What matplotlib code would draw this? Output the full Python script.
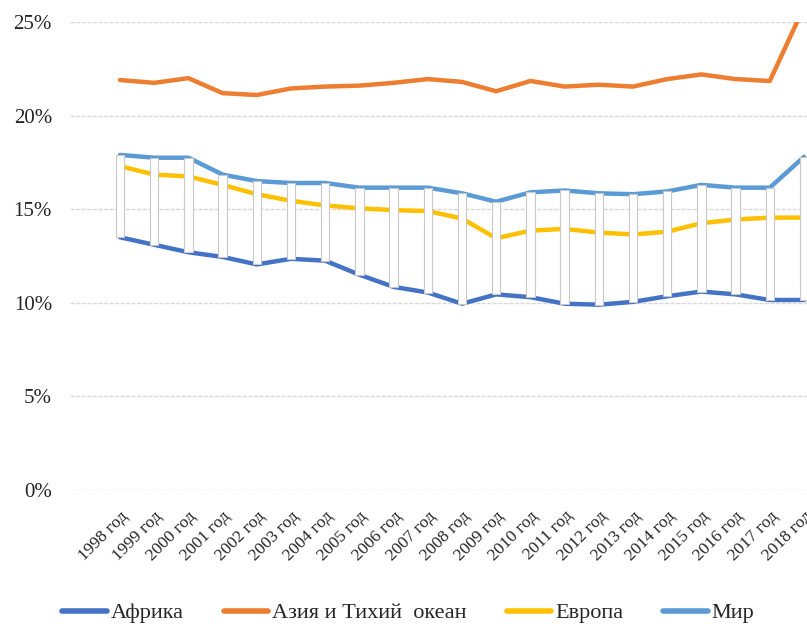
import matplotlib
matplotlib.use("Agg")
import matplotlib.pyplot as plt
from matplotlib.patches import Rectangle
from matplotlib.ticker import PercentFormatter

years = [f"{y} год" for y in range(1998, 2019)]
africa = [13.5, 13.1, 12.7, 12.45, 12.05, 12.35, 12.25, 11.5, 10.85, 10.55, 9.95,
          10.45, 10.3, 9.95, 9.9, 10.05, 10.35, 10.6, 10.45, 10.15, 10.15]
asia = [21.9, 21.75, 22.0, 21.2, 21.1, 21.45, 21.55, 21.6, 21.75, 21.95, 21.8,
        21.3, 21.85, 21.55, 21.65, 21.55, 21.95, 22.2, 21.95, 21.85, 25.8]
europe = [17.3, 16.85, 16.75, 16.3, 15.8, 15.45, 15.2, 15.05, 14.95, 14.9, 14.5,
          13.45, 13.85, 13.95, 13.75, 13.65, 13.8, 14.25, 14.45, 14.55, 14.55]
world = [17.9, 17.75, 17.75, 16.85, 16.5, 16.4, 16.4, 16.15, 16.15, 16.15, 15.85,
         15.4, 15.9, 16.0, 15.85, 15.8, 15.95, 16.3, 16.15, 16.15, 17.8]
series_names = ["Африка", "Азия и Тихий  океан", "Европа", "Мир"]
colors = ["#4472c4", "#ed7d31", "#ffc000", "#5b9bd5"]

plt.rcParams['font.family'] = ['Liberation Serif', 'DejaVu Serif']

fig = plt.figure(figsize=(8.07, 6.26), dpi=100)
ax = fig.add_axes([70/807, 1-490/626, 1-70/807, (490-22)/626])

x = list(range(len(years)))
for vals, c, name in zip([africa, asia, europe, world], colors, series_names):
    ax.plot(x, [v/100 for v in vals], color=c, lw=3.2, label=name,
            solid_joinstyle='round', solid_capstyle='round', zorder=3, clip_on=True)

w = 0.24
for i in x:
    lo, hi = sorted([africa[i]/100, world[i]/100])
    ax.add_patch(Rectangle((i - w/2, lo), w, hi - lo, facecolor='white',
                           edgecolor='#c8c8c8', lw=0.8, zorder=4))

ax.set_ylim(0, 0.25)
ax.set_xlim(-50/34.2, 20 + 3/34.2)
ax.set_yticks([0, 0.05, 0.10, 0.15, 0.20, 0.25])
ax.yaxis.set_major_formatter(PercentFormatter(1.0, decimals=0))
ax.grid(axis='y', color='#d9d9d9', lw=1, linestyle=(0, (3, 1)), zorder=0)
ax.set_axisbelow(True)
for s in ax.spines.values():
    s.set_visible(False)
ax.tick_params(axis='both', length=0, colors='#262626')
ax.tick_params(axis='y', pad=13, labelsize=15)
ax.set_xticks(x)
ax.set_xticklabels(years, rotation=45, ha='right', rotation_mode='anchor', fontsize=12.5)
ax.tick_params(axis='x', pad=13)

leg = fig.legend(loc='center', bbox_to_anchor=(0.506, 1-613/626), ncol=4, frameon=False,
                 fontsize=16, handlelength=2.0, handletextpad=0.18, columnspacing=1.8)
for t in leg.get_texts():
    t.set_color('#262626')
for h in leg.legend_handles:
    h.set_linewidth(4)

fig.savefig("out.png", dpi=100)
